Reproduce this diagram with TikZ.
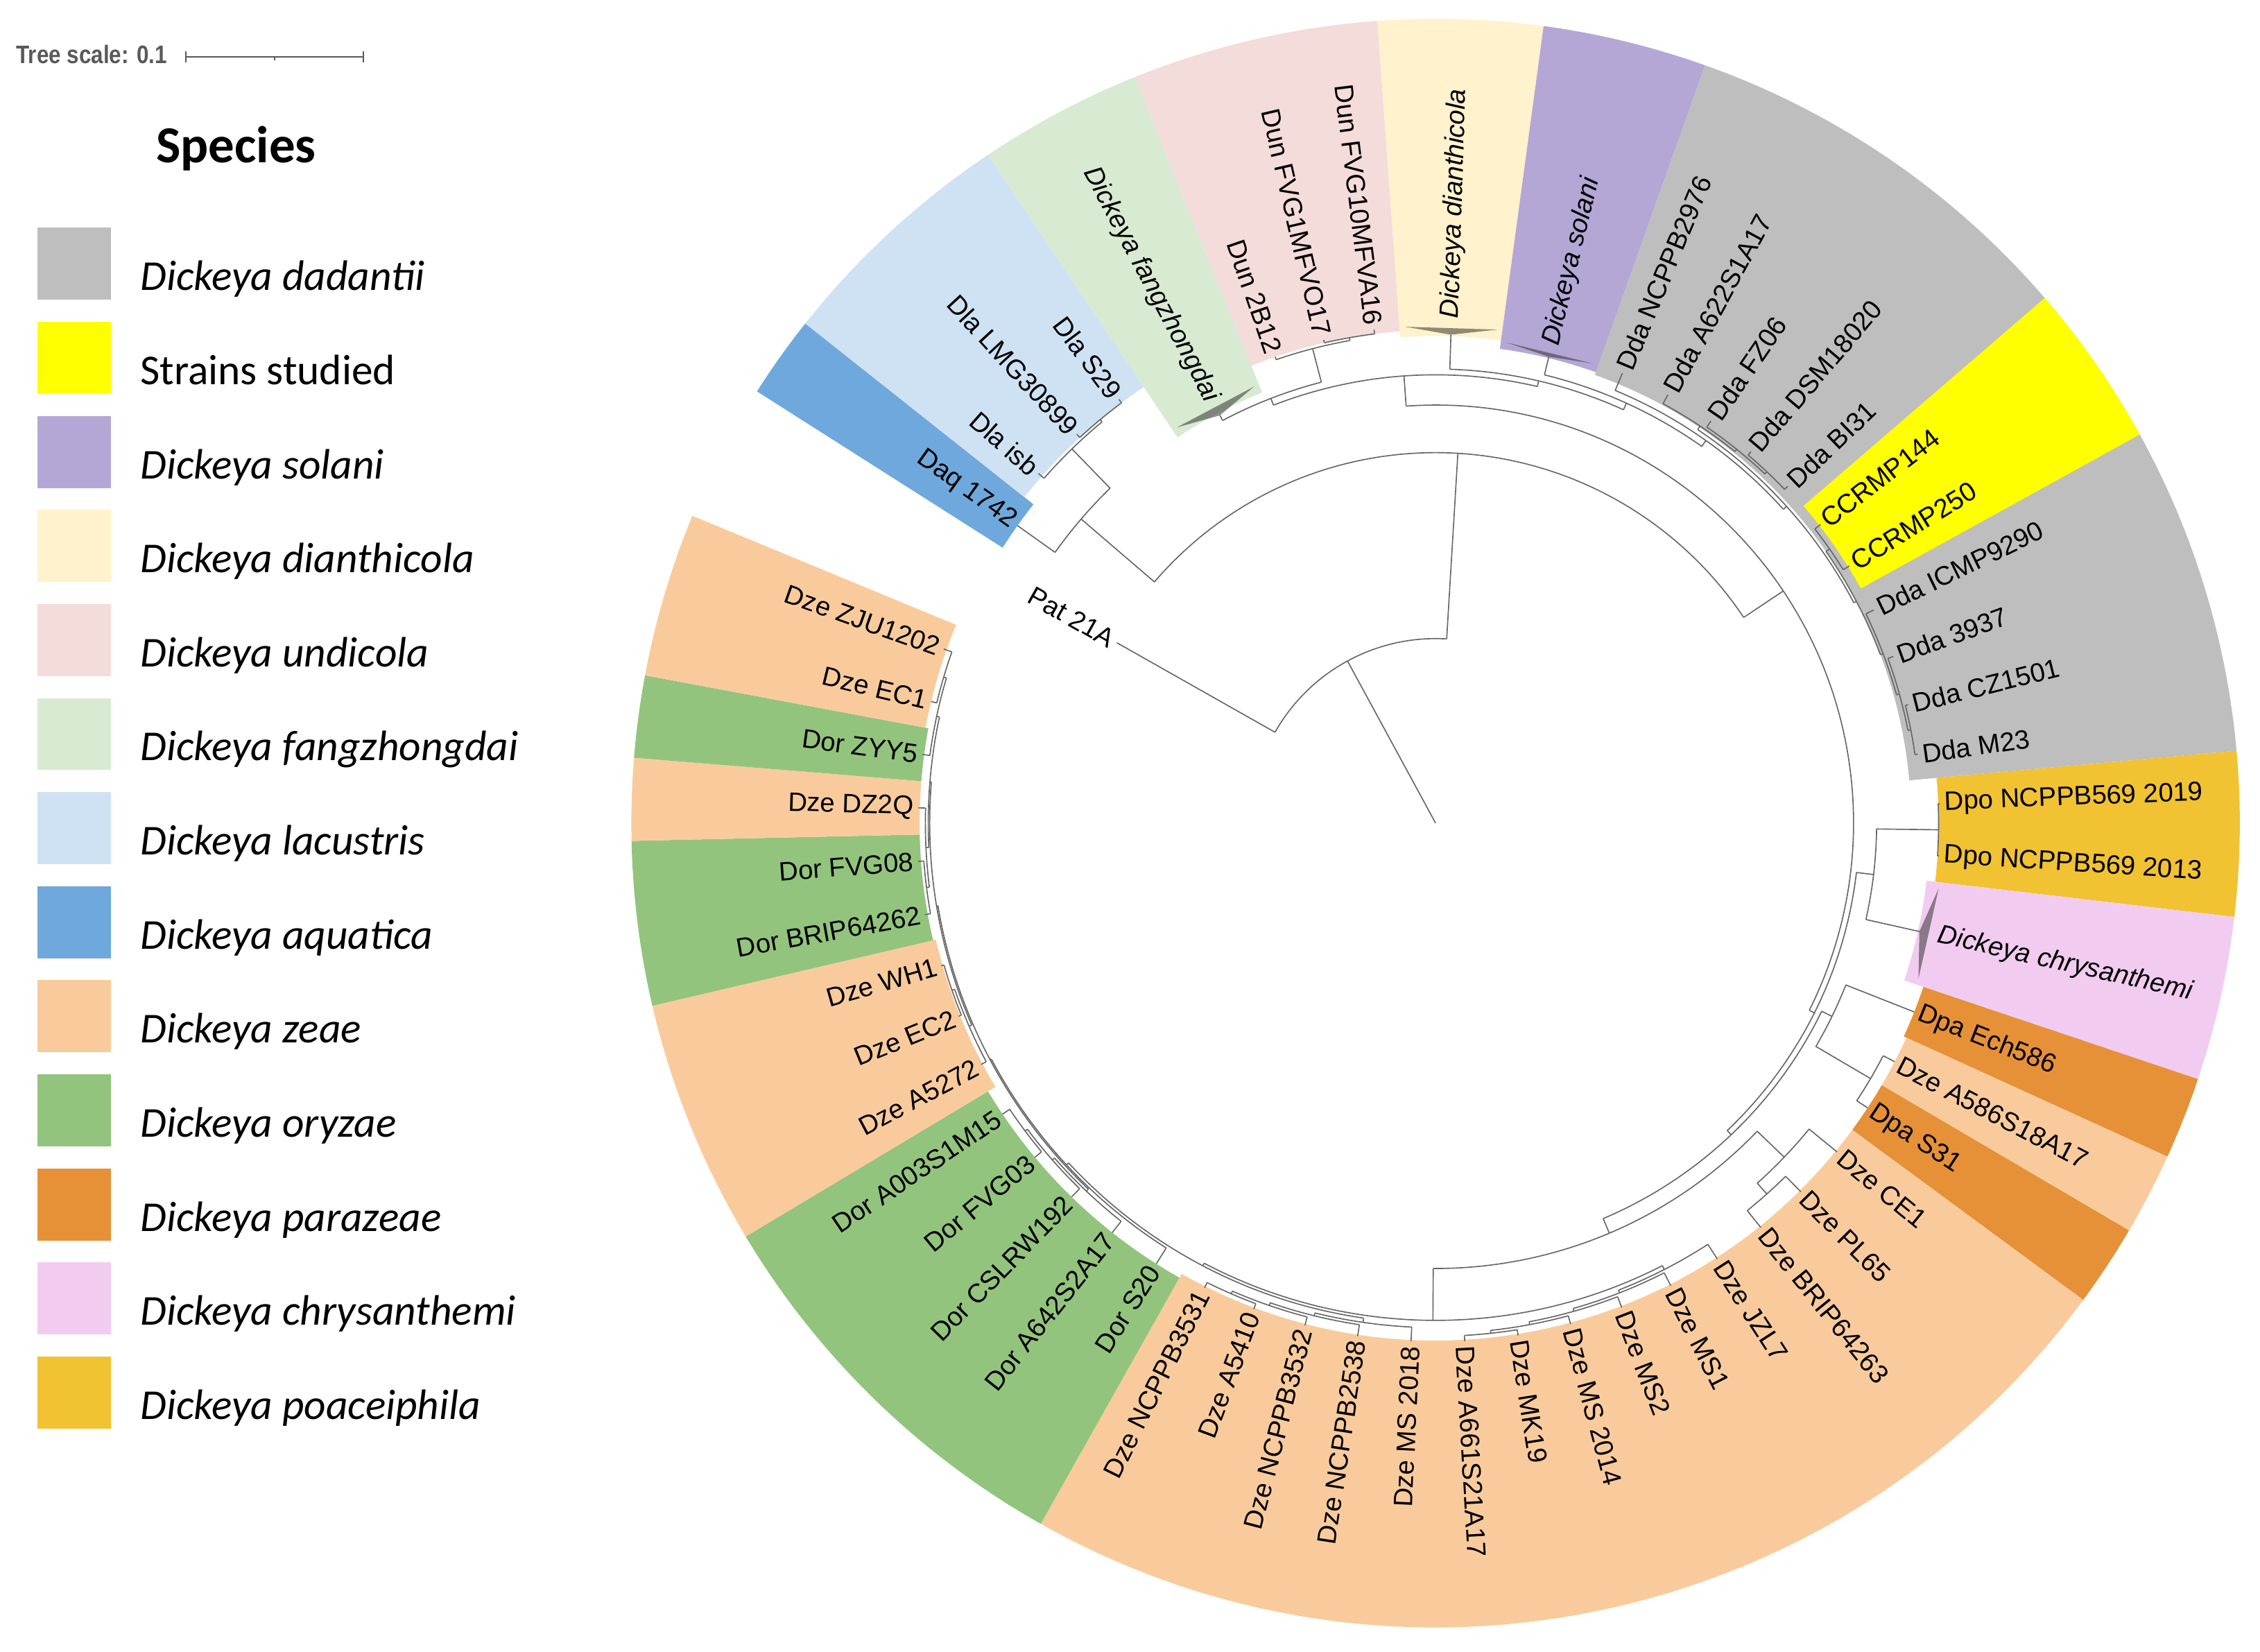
\documentclass[tikz,border=0pt]{standalone}
\usepackage{fontspec}
\setmainfont{Liberation Sans}
\newfontfamily\legendfont{Carlito}
\usetikzlibrary{calc}

\definecolor{dadantii}{HTML}{BEBEBE}
\definecolor{studied}{HTML}{FFFF00}
\definecolor{solani}{HTML}{B4A7D6}
\definecolor{dianthicola}{HTML}{FFF2CC}
\definecolor{undicola}{HTML}{F4DCDB}
\definecolor{fangzhongdai}{HTML}{D9EAD3}
\definecolor{lacustris}{HTML}{CFE2F3}
\definecolor{aquatica}{HTML}{6FA8DC}
\definecolor{zeae}{HTML}{F9CB9C}
\definecolor{oryzae}{HTML}{93C47D}
\definecolor{parazeae}{HTML}{E69138}
\definecolor{chrysanthemi}{HTML}{F2CCF0}
\definecolor{poaceiphila}{HTML}{F1C232}

\tikzset{
  treeline/.style={draw=black!60, line width=0.45pt},
  leaflabel/.style={inner sep=0pt, font=\fontsize{10.5}{12}\selectfont},
  collapsed/.style={fill=black!80, fill opacity=0.55},
  legendlabel/.style={inner sep=0pt, anchor=base west, font=\legendfont\fontsize{16.8}{20}\selectfont},
}

% coloured range: colour, start angle, end angle, inner radius
\newcommand{\rangeband}[4]{%
  \fill[#1] (#2:#4) arc[start angle=#2, end angle=#3, radius=#4]
    -- (#3:558) arc[start angle=#3, end angle=#2, radius=558] -- cycle;}

% inner node: parent radius, radius, first child angle, last child angle
\newcommand{\clade}[4]{%
  \pgfmathsetmacro\midang{(#3+#4)/2}%
  \draw[treeline] (\midang:#1) -- (\midang:#2);%
  \draw[treeline] (#3:#2) arc[start angle=#3, end angle=#4, radius=#2];}

\newcommand{\tiplabel}[4]{%
  \pgfmathsetmacro\labr{#3}%
  \pgfmathtruncatemacro\rside{cos(#2)>0}%
  \ifnum\rside=1
    \node[leaflabel, anchor=west, rotate=#2] (#1) at (#2:\labr) {#4};%
  \else
    \pgfmathsetmacro\flipang{#2+180}%
    \node[leaflabel, anchor=east, rotate=\flipang] (#1) at (#2:\labr) {#4};%
  \fi}

% leaf: name, parent radius, tip radius, angle, text
\newcommand{\tipleaf}[5]{%
  \draw[treeline] (#4:#2) -- (#4:#3);%
  \tiplabel{#1}{#4}{#3+3}{#5}}

% collapsed clade: name, parent radius, apex radius, base radius, a1, a2, label radius, text
\newcommand{\collapsedclade}[8]{%
  \pgfmathsetmacro\midang{(#5+#6)/2}%
  \draw[treeline] (\midang:#2) -- (\midang:#3);%
  \fill[collapsed] (\midang:#3) -- (#5:#4) -- (#6:#4) -- cycle;%
  \tiplabel{#1}{\midang}{#7}{\textit{#8}}}

\begin{document}
\begin{tikzpicture}[x=0.2mm, y=0.2mm]
\useasboundingbox (0,0) rectangle (1568,-1146);

\node[inner sep=0pt, anchor=base west, xscale=0.86, text=black!65, font=\bfseries\fontsize{10}{12}\selectfont] (scaletext) at (11,-44) {Tree scale: 0.1};
\coordinate (barL) at (129,-39.5);
\coordinate (barM) at (190.5,-39.5);
\coordinate (barR) at (252,-39.5);
\draw[black!65, line width=0.6pt] (barL) -- (barR);
\draw[black!65, line width=0.6pt] ($(barL)+(0,4)$) -- ($(barL)+(0,-4)$);
\draw[black!65, line width=0.6pt] ($(barR)+(0,4)$) -- ($(barR)+(0,-4)$);
\draw[black!65, line width=0.6pt] (barM) -- ($(barM)+(0,-2.5)$);

\node[inner sep=0pt, anchor=base west, font=\legendfont\bfseries\fontsize{20.5}{24}\selectfont] (species) at (108,-113) {Species};
\foreach \col/\txt [count=\i from 0] in {dadantii/\textit{Dickeya dadantii}, studied/Strains studied,
    solani/\textit{Dickeya solani}, dianthicola/\textit{Dickeya dianthicola}, undicola/\textit{Dickeya undicola},
    fangzhongdai/\textit{Dickeya fangzhongdai}, lacustris/\textit{Dickeya lacustris}, aquatica/\textit{Dickeya aquatica},
    zeae/\textit{Dickeya zeae}, oryzae/\textit{Dickeya oryzae}, parazeae/\textit{Dickeya parazeae},
    chrysanthemi/\textit{Dickeya chrysanthemi}, poaceiphila/\textit{Dickeya poaceiphila}} {
  \fill[\col] (26,{-158-65.25*\i}) rectangle (77,{-208-65.25*\i});
  \node[legendlabel] (legend\i) at (97,{-201.5-65.25*\i}) {\txt};
}

\begin{scope}[shift={(996,-571)}]
% species ranges
\rangeband{aquatica}{147.54}{141.60}{356}
\rangeband{lacustris}{141.60}{123.80}{364}
\rangeband{fangzhongdai}{123.80}{111.94}{322}
\rangeband{undicola}{111.94}{94.15}{342}
\rangeband{dianthicola}{94.15}{82.28}{338}
\rangeband{solani}{82.28}{70.42}{332}
\rangeband{dadantii}{70.42}{5.16}{330}
\rangeband{studied}{40.76}{28.89}{337}
\rangeband{poaceiphila}{5.16}{-6.70}{349}
\rangeband{chrysanthemi}{-6.70}{-18.56}{343}
\rangeband{parazeae}{-18.56}{-24.50}{357}
\rangeband{zeae}{-24.50}{-30.43}{359}
\rangeband{parazeae}{-30.43}{-36.36}{359}
\rangeband{zeae}{-36.36}{-119.40}{359}
\rangeband{oryzae}{-119.40}{-149.07}{362}
\rangeband{zeae}{-149.07}{-166.87}{356}
\rangeband{oryzae}{-166.87}{-178.73}{358}
\rangeband{zeae}{-178.73}{-184.66}{358}
\rangeband{oryzae}{-184.66}{-190.59}{358}
\rangeband{zeae}{-190.59}{-202.46}{360}

% tree
\clade{0}{128}{150.50}{86.55}
\tipleaf{pat}{128}{254}{150.50}{Pat 21A}
\clade{128}{257}{139.38}{33.72}
\clade{257}{324}{144.57}{134.19}
\tipleaf{daq}{324}{356}{144.57}{Daq 1742}
\clade{324}{362}{138.64}{129.735}
\tipleaf{dlaisb}{362}{367}{138.64}{Dla isb}
\clade{362}{364}{132.70}{126.77}
\tipleaf{dlalmg}{364}{367}{132.70}{Dla LMG30899}
\tipleaf{dlas}{364}{367}{126.77}{Dla S29}

\clade{257}{290}{94.04}{-26.60}
\clade{290}{311}{111.20}{76.88}
\clade{311}{316}{117.875}{104.53}
\collapsedclade{dfang}{316}{320}{328}{123.2}{112.55}{331}{Dickeya fangzhongdai}
\clade{316}{340}{108.98}{100.075}
\tipleaf{dun2b}{340}{342}{108.98}{Dun 2B12}
\clade{340}{342}{103.04}{97.11}
\tipleaf{dunvo}{342}{344}{103.04}{Dun FVG1MFVO17}
\tipleaf{dunva}{342}{345}{97.11}{Dun FVG10MFVA16}
\clade{311}{315}{88.2}{65.55}
\collapsedclade{ddian}{315}{339}{345}{93.5}{82.9}{350}{Dickeya dianthicola}
\clade{315}{320}{76.35}{54.75}
\collapsedclade{dsol}{320}{333}{337}{81.6}{71.1}{341}{Dickeya solani}
\clade{320}{325}{67.45}{42.06}
\tipleaf{dda1}{325}{338}{67.45}{Dda NCPPB2976}
\clade{325}{328}{56.33}{27.78}
\clade{328}{331}{61.52}{51.14}
\tipleaf{dda2}{331}{338}{61.52}{Dda A622S1A17}
\clade{331}{333}{55.59}{46.69}
\tipleaf{dda3}{333}{338}{55.59}{Dda FZ06}
\clade{333}{335}{49.66}{43.72}
\tipleaf{dda4}{335}{338}{49.66}{Dda DSM18020}
\tipleaf{dda5}{335}{338}{43.72}{Dda BI31}
\clade{328}{330}{34.825}{20.74}
\clade{330}{333}{37.79}{31.86}
\tipleaf{ccrmp144}{333}{338}{37.79}{CCRMP144}
\tipleaf{ccrmp250}{333}{338}{31.86}{CCRMP250}
\clade{330}{332}{25.93}{15.55}
\tipleaf{dda6}{332}{338}{25.93}{Dda ICMP9290}
\clade{332}{334}{20.00}{11.095}
\tipleaf{dda7}{334}{338}{20.00}{Dda 3937}
\clade{334}{336}{14.06}{8.13}
\tipleaf{dda8}{336}{338}{14.06}{Dda CZ1501}
\tipleaf{dda9}{336}{338}{8.13}{Dda M23}

\clade{290}{294}{-6.70}{-46.51}
\clade{294}{306}{-0.765}{-12.63}
\clade{306}{349}{2.20}{-3.73}
\tipleaf{dpo19}{349}{350}{2.20}{Dpo NCPPB569 2019}
\tipleaf{dpo13}{349}{350}{-3.73}{Dpo NCPPB569 2013}
\collapsedclade{dchr}{306}{344}{352}{-7.4}{-17.86}{357}{Dickeya chrysanthemi}
\clade{294}{298}{-25.98}{-67.04}
\clade{298}{306}{-21.53}{-30.43}
\tipleaf{dpa1}{306}{357}{-21.53}{Dpa Ech586}
\clade{306}{350}{-27.46}{-33.39}
\tipleaf{dze1}{350}{359}{-27.46}{Dze A586S18A17}
\tipleaf{dpa2}{350}{359}{-33.39}{Dpa S31}
\clade{298}{309}{-43.77}{-90.30}
\clade{309}{335}{-39.32}{-48.23}
\tipleaf{dze2}{335}{360}{-39.32}{Dze CE1}
\clade{335}{345}{-45.26}{-51.19}
\tipleaf{dze3}{345}{360}{-45.26}{Dze PL65}
\tipleaf{dze4}{345}{360}{-51.19}{Dze BRIP64263}
\clade{309}{345}{-62.87}{-117.74}
\clade{345}{348}{-57.12}{-68.61}
\tipleaf{dze5}{348}{360}{-57.12}{Dze JZL7}
\clade{348}{350}{-63.05}{-74.17}
\tipleaf{dze6}{350}{360}{-63.05}{Dze MS1}
\clade{350}{352}{-68.98}{-79.37}
\tipleaf{dze7}{352}{360}{-68.98}{Dze MS2}
\clade{352}{354}{-74.92}{-83.82}
\tipleaf{dze8}{354}{360}{-74.92}{Dze MS 2014}
\clade{354}{356}{-80.85}{-86.78}
\tipleaf{dze9}{356}{360}{-80.85}{Dze MK19}
\tipleaf{dze10}{356}{360}{-86.78}{Dze A661S21A17}
\clade{345}{347}{-98.27}{-137.20}
\clade{347}{350}{-92.71}{-103.83}
\tipleaf{dze11}{350}{360}{-92.71}{Dze MS 2018}
\clade{350}{352}{-98.64}{-109.03}
\tipleaf{dze12}{352}{360}{-98.64}{Dze NCPPB2538}
\clade{352}{354}{-104.58}{-113.48}
\tipleaf{dze13}{354}{360}{-104.58}{Dze NCPPB3532}
\clade{354}{356}{-110.51}{-116.44}
\tipleaf{dze14}{356}{360}{-110.51}{Dze A5410}
\tipleaf{dze15}{356}{360}{-116.44}{Dze NCPPB3531}
\clade{347}{349}{-122.37}{-152.03}
\tipleaf{dor1}{349}{362}{-122.37}{Dor S20}
\clade{349}{350}{-133.49}{-170.57}
\clade{350}{352}{-128.30}{-138.69}
\tipleaf{dor2}{352}{362}{-128.30}{Dor A642S2A17}
\clade{352}{354}{-134.24}{-143.135}
\tipleaf{dor3}{354}{362}{-134.24}{Dor CSLRW192}
\clade{354}{356}{-140.17}{-146.10}
\tipleaf{dor4}{356}{362}{-140.17}{Dor FVG03}
\tipleaf{dor5}{356}{362}{-146.10}{Dor A003S1M15}
\clade{350}{351}{-156.48}{-184.66}
\clade{351}{353}{-152.03}{-160.93}
\tipleaf{dze16}{353}{357}{-152.03}{Dze A5272}
\clade{353}{355}{-157.96}{-163.90}
\tipleaf{dze17}{355}{357}{-157.96}{Dze EC2}
\tipleaf{dze18}{355}{357}{-163.90}{Dze WH1}
\clade{351}{352}{-177.24}{-192.07}
\clade{352}{354}{-172.80}{-181.69}
\clade{354}{356}{-169.83}{-175.76}
\tipleaf{dor6}{356}{360}{-169.83}{Dor BRIP64262}
\tipleaf{dor7}{356}{360}{-175.76}{Dor FVG08}
\tipleaf{dze19}{354}{359}{-181.69}{Dze DZ2Q}
\clade{352}{354}{-187.62}{-196.52}
\tipleaf{dor8}{354}{359}{-187.62}{Dor ZYY5}
\clade{354}{356}{-193.55}{-199.49}
\tipleaf{dze20}{356}{360}{-193.55}{Dze EC1}
\tipleaf{dze21}{356}{362}{-199.49}{Dze ZJU1202}
\end{scope}
\end{tikzpicture}
\end{document}
